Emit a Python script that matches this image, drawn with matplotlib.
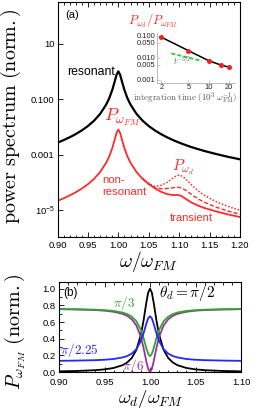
import matplotlib
matplotlib.use("Agg")
import matplotlib.pyplot as plt
from matplotlib.ticker import MultipleLocator, NullLocator

plt.rcParams['font.family'] = ['Liberation Sans', 'DejaVu Sans']
plt.rcParams['mathtext.fontset'] = 'cm'

# ---- panel (a): power spectra ----
x_a = [0.90, 0.91, 0.92, 0.93, 0.94, 0.95, 0.96, 0.97, 0.98, 0.985, 0.99, 0.994,
       0.997, 1.0, 1.003, 1.006, 1.01, 1.015, 1.02, 1.03, 1.04, 1.05, 1.06, 1.07,
       1.08, 1.09, 1.095, 1.10, 1.105, 1.11, 1.12, 1.13, 1.14, 1.16, 1.18, 1.20]
resonant = [0.00270, 0.00333, 0.00421, 0.00549, 0.00746, 0.0107, 0.0166, 0.0292,
            0.0633, 0.107, 0.213, 0.429, 0.750, 1.0, 0.750, 0.429, 0.213, 0.107,
            0.0633, 0.0292, 0.0166, 0.0107, 0.00746, 0.00549, 0.00421, 0.00333,
            0.00299, 0.00270, 0.00245, 0.00223, 0.00187, 0.00160, 0.00138,
            0.00106, 0.000834, 0.000676]
nonres = [2.16e-5, 2.66e-5, 3.37e-5, 4.39e-5, 5.97e-5, 8.56e-5, 1.33e-4, 2.34e-4,
          5.06e-4, 8.56e-4, 1.70e-3, 3.43e-3, 6.0e-3, 8.0e-3, 6.0e-3, 3.43e-3,
          1.70e-3, 8.56e-4, 5.06e-4, 2.34e-4, 1.33e-4, 8.64e-5, 6.09e-5, 4.60e-5,
          3.76e-5, 3.48e-5, 3.52e-5, 3.46e-5, 3.09e-5, 2.60e-5, 1.89e-5, 1.49e-5,
          1.22e-5, 9.06e-6, 7.0e-6, 5.63e-6]
# transient tails (longer integration -> dashed, dotted)
x_tail = [1.04, 1.05, 1.06, 1.07, 1.08, 1.09, 1.095, 1.10, 1.105, 1.11, 1.12,
          1.13, 1.14, 1.16, 1.18, 1.20]
tail_dashed = [1.35e-4, 8.8e-5, 6.5e-5, 5.9e-5, 6.0e-5, 6.4e-5, 6.6e-5, 6.6e-5,
               6.1e-5, 5.3e-5, 3.7e-5, 2.63e-5, 1.98e-5, 1.29e-5, 9.26e-6, 7.1e-6]
tail_dotted = [1.40e-4, 9.0e-5, 7.2e-5, 7.8e-5, 9.8e-5, 1.46e-4, 1.71e-4, 1.82e-4,
               1.67e-4, 1.37e-4, 8.22e-5, 5.17e-5, 3.55e-5, 2.04e-5, 1.36e-5, 9.9e-6]

# inset: ratio vs integration time
t_int = [2, 5, 10, 15, 20]
ratio = [0.087, 0.0215, 0.0075, 0.0048, 0.0038]
t_fit = [2.8, 7.9]
ratio_fit = [0.016, 0.0073]

# ---- panel (b): P_wFM vs drive frequency ----
x_b = [0.90, 0.92, 0.94, 0.95, 0.96, 0.97, 0.975, 0.98, 0.985, 0.99, 0.993, 0.996,
       0.998, 1.0, 1.002, 1.004, 1.007, 1.01, 1.015, 1.02, 1.025, 1.03, 1.04, 1.05,
       1.06, 1.08, 1.10]
p_half = [0.008, 0.0125, 0.022, 0.0314, 0.0482, 0.0826, 0.115, 0.168, 0.265, 0.448,
          0.623, 0.835, 0.953, 1.0, 0.953, 0.835, 0.623, 0.448, 0.265, 0.168, 0.115,
          0.0826, 0.0482, 0.0314, 0.022, 0.0125, 0.008]
p_third = [0.755, 0.753, 0.748, 0.742, 0.733, 0.713, 0.695, 0.664, 0.609, 0.505,
           0.405, 0.284, 0.217, 0.19, 0.217, 0.284, 0.405, 0.505, 0.609, 0.664,
           0.695, 0.713, 0.733, 0.742, 0.748, 0.753, 0.755]
p_225 = [0.134, 0.137, 0.142, 0.147, 0.156, 0.175, 0.192, 0.221, 0.273, 0.372,
         0.467, 0.581, 0.645, 0.67, 0.645, 0.581, 0.467, 0.372, 0.273, 0.221,
         0.192, 0.175, 0.156, 0.147, 0.142, 0.137, 0.134]
p_sixth = [0.754, 0.750, 0.743, 0.736, 0.723, 0.697, 0.673, 0.632, 0.559, 0.420,
           0.286, 0.125, 0.036, 0.0, 0.036, 0.125, 0.286, 0.420, 0.559, 0.632,
           0.673, 0.697, 0.723, 0.736, 0.743, 0.750, 0.754]

RED = '#ff2a2a'
W, H = 254, 409
fig = plt.figure(figsize=(W / 100, H / 100), dpi=100)

def box(l, t, r, b):
    return [l / W, 1 - b / H, (r - l) / W, (b - t) / H]

# (a)
ax = fig.add_axes(box(57.5, 2, 240, 236.7))
ax.plot(x_a, resonant, color='black', lw=1.6)
ax.plot(x_a, nonres, color=RED, lw=1.3)
ax.plot(x_tail, tail_dashed, color=RED, lw=1.0, ls=(0, (3, 1.5)))
ax.plot(x_tail, tail_dotted, color=RED, lw=1.1, ls=(0, (1, 1.2)))
ax.set_yscale('log')
ax.set_xlim(0.9, 1.2)
ax.set_ylim(1.1e-6, 316)
ax.set_xticks([0.90, 0.95, 1.00, 1.05, 1.10, 1.15, 1.20])
ax.set_xticklabels(['0.90', '0.95', '1.00', '1.05', '1.10', '1.15', '1.20'])
ax.xaxis.set_minor_locator(MultipleLocator(0.01))
ax.set_yticks([10, 0.1, 0.001, 1e-5])
ax.set_yticklabels(['10', '0.100', '0.001', r'$\mathregular{10^{-5}}$'])
ax.yaxis.set_minor_locator(NullLocator())
ax.tick_params(which='both', direction='in', top=True, labelsize=6.8, width=0.6)
ax.tick_params(which='major', length=3.5)
ax.tick_params(which='minor', length=1.8)
ax.tick_params(axis='x', pad=3)
ax.tick_params(axis='y', pad=2)

ax.text(0.045, 0.945, '(a)', transform=ax.transAxes, fontsize=8, va='center')
ax.text(0.315, 0.703, 'resonant', transform=ax.transAxes, fontsize=8.8,
        ha='right', va='center')
ax.text(0.356, 0.51, r'$P_{\omega_{FM}}$', transform=ax.transAxes, fontsize=13,
        color=RED, ha='center', va='center')
ax.text(0.244, 0.214, 'non-\nresonant', transform=ax.transAxes, fontsize=8.2,
        color=RED, ha='left', va='center', linespacing=1.25)
ax.text(0.69, 0.297, r'$P_{\omega_d}$', transform=ax.transAxes, fontsize=11,
        color=RED, ha='center', va='center')
ax.text(0.734, 0.080, 'transient', transform=ax.transAxes, fontsize=8,
        color=RED, ha='center', va='center')

# inset
ins = fig.add_axes(box(156.7, 32.7, 235, 82.7))
ins.plot(t_int, ratio, color='black', lw=1.1)
ins.plot(t_fit, ratio_fit, color='#33cc33', lw=1.4, ls=(0, (2, 1.2)))
ins.plot(t_int, ratio, 'o', color='#ff1a1a', ms=3.6, mec='none')
ins.set_xscale('log')
ins.set_yscale('log')
ins.set_xlim(1.7, 24.5)
ins.set_ylim(7.5e-4, 0.14)
ins.set_xticks([2, 5, 10, 20])
ins.set_xticklabels(['2', '5', '10', '20'])
ins.set_yticks([0.1, 0.05, 0.01, 0.005, 0.001])
ins.set_yticklabels(['0.100', '0.050', '0.010', '0.005', '0.001'])
ins.xaxis.set_minor_locator(NullLocator())
ins.yaxis.set_minor_locator(NullLocator())
ins.patch.set_alpha(0)
for s in ('top', 'right'):
    ins.spines[s].set_visible(False)
for s in ('left', 'bottom'):
    ins.spines[s].set_color('#b0b0b0')
    ins.spines[s].set_linewidth(0.6)
ins.tick_params(direction='in', length=2, width=0.5, color='#b0b0b0',
                labelsize=5.4, pad=1, labelcolor='#222222')
fig.text(153.5 / W, 1 - 21 / H, r'$P_{\omega_d}/P_{\omega_{FM}}$', fontsize=9,
         color=RED, ha='center', va='center')
fig.text(185 / W, 1 - 98.5 / H,
         r'$\mathrm{integration\ time\ (10^3\ \omega_{FM}^{-1})}$',
         fontsize=6.4, color='#555555', ha='center', va='center')
fig.text(182 / W, 1 - 61 / H, r'$t^{-3/2}$', fontsize=5.8, color='#555555',
         ha='center', va='center')

fig.text(11 / W, 1 - 116 / H, r'$\mathrm{power\ spectrum\ (norm.)}$',
         fontsize=14.5, rotation=90, ha='center', va='center')
fig.text(148 / W, 1 - 262 / H, r'$\omega/\omega_{FM}$', fontsize=14,
         ha='center', va='center')

# (b)
bx = fig.add_axes(box(59, 282, 241, 372))
bx.plot(x_b, p_half, color='black', lw=1.3)
bx.plot(x_b, p_sixth, color='#993399', lw=1.3)
bx.plot(x_b, p_third, color='#2fa52f', lw=1.3)
bx.plot(x_b, p_225, color='#2626ff', lw=1.3)
bx.set_xlim(0.9, 1.1)
bx.set_ylim(0, 1.08)
bx.set_xticks([0.90, 0.95, 1.00, 1.05, 1.10])
bx.set_xticklabels(['0.90', '0.95', '1.00', '1.05', '1.10'])
bx.set_yticks([0.0, 0.2, 0.4, 0.6, 0.8, 1.0])
bx.set_yticklabels(['0.0', '0.2', '0.4', '0.6', '0.8', '1.0'])
bx.xaxis.set_minor_locator(MultipleLocator(0.01))
bx.yaxis.set_minor_locator(MultipleLocator(0.1))
bx.tick_params(which='both', direction='in', top=True, labelsize=6.8, width=0.6)
bx.tick_params(which='major', length=3.5)
bx.tick_params(which='minor', length=1.8)
bx.tick_params(axis='x', pad=4)
bx.tick_params(axis='y', pad=2.5)

bx.text(0.025, 0.878, '(b)', transform=bx.transAxes, fontsize=8.5, va='center')
bx.text(0.703, 0.878, r'$\theta_d=\pi/2$', transform=bx.transAxes, fontsize=11,
        ha='center', va='center')
bx.text(0.36, 0.767, r'$\pi/3$', transform=bx.transAxes, fontsize=9.5,
        color='#2fa52f', ha='center', va='center')
bx.text(0.113, 0.244, r'$\pi/2.25$', transform=bx.transAxes, fontsize=9.5,
        color='#2626ff', ha='center', va='center')
bx.text(0.405, 0.067, r'$\pi/6$', transform=bx.transAxes, fontsize=9.5,
        color='#993399', ha='center', va='center')

fig.text(15 / W, 1 - 332 / H, r'$P_{\omega_{FM}}\ \mathrm{(norm.)}$',
         fontsize=14.5, rotation=90, ha='center', va='center')
fig.text(150 / W, 1 - 399.5 / H, r'$\omega_d/\omega_{FM}$', fontsize=13.5,
         ha='center', va='center')

fig.savefig('out.png', dpi=100)
